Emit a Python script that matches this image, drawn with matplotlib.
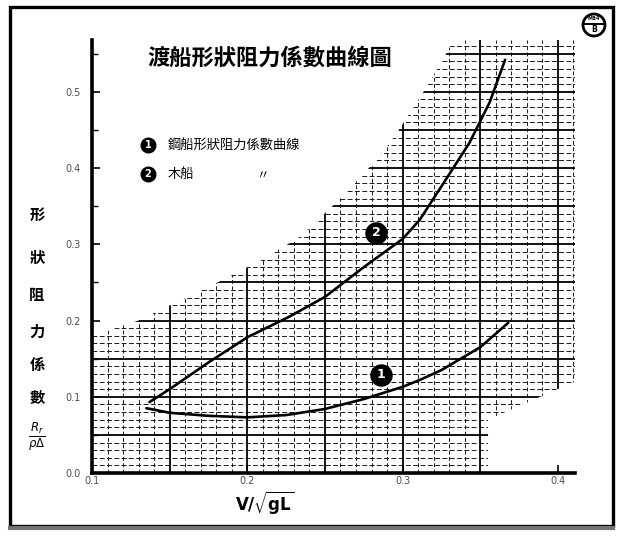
import matplotlib
matplotlib.use("Agg")
import matplotlib.pyplot as plt
from matplotlib.patches import Polygon, Rectangle, Circle
import numpy as np

plt.rcParams['font.family'] = ['Noto Sans CJK TC', 'DejaVu Sans']

# Froude number V/sqrt(gL) and form resistance coefficient
steel_x = [0.135, 0.15, 0.175, 0.2, 0.225, 0.25, 0.275, 0.3, 0.311, 0.325, 0.35, 0.368]
steel_y = [0.085, 0.079, 0.075, 0.073, 0.076, 0.084, 0.097, 0.113, 0.122, 0.135, 0.165, 0.197]
wood_x = [0.137, 0.15, 0.175, 0.2, 0.227, 0.25, 0.275, 0.3, 0.311, 0.325, 0.343, 0.356, 0.366]
wood_y = [0.093, 0.110, 0.145, 0.178, 0.205, 0.231, 0.270, 0.307, 0.332, 0.376, 0.433, 0.486, 0.542]

xticks = [0.1, 0.2, 0.3, 0.4]
yticks = [0.0, 0.1, 0.2, 0.3, 0.4, 0.5]
xtick_labels = ['0.1', '0.2', '0.3', '0.4']
ytick_labels = ['0.0', '0.1', '0.2', '0.3', '0.4', '0.5']

title = '渡船形狀阻力係數曲線圖'
legend_1 = '鋼船形狀阻力係數曲線'
legend_2 = '木船'
ylabel_chars = ['形', '狀', '阻', '力', '係', '數']

# area of the sheet that still carries graph-paper ruling
paper_edge = [(0.1, 0.0), (0.1, 0.18), (0.13, 0.20), (0.176, 0.245), (0.21, 0.28),
              (0.234, 0.31), (0.26, 0.36), (0.285, 0.415), (0.296, 0.445),
              (0.315, 0.505), (0.326, 0.543), (0.333, 0.568), (0.411, 0.568),
              (0.411, 0.12), (0.355, 0.07), (0.355, 0.0)]

W, H = 621, 536
fig = plt.figure(figsize=(W / 100, H / 100), dpi=100)
fig.patch.set_facecolor('white')

ax = fig.add_axes([92 / W, 63 / H, 483 / W, 433 / H])
ax.set_xlim(0.1, 0.411)
ax.set_ylim(0.0, 0.568)
ax.set_facecolor('none')

clip = Polygon(paper_edge, closed=True, transform=ax.transData, facecolor='none', edgecolor='none')
ax.add_patch(clip)

# graph paper: fine ruling every 0.01, heavy every 0.05
gx = np.round(np.arange(0.1, 0.411, 0.01), 3)
gy = np.round(np.arange(0.01, 0.568, 0.01), 3)
for v in gx:
    heavy = abs(v * 20 - round(v * 20)) < 1e-6
    ln = ax.axvline(v, color='black' if heavy else '0.1',
                    lw=1.3 if heavy else 0.7,
                    ls='-' if heavy else (0, (4, 2.5)), zorder=1)
    ln.set_clip_path(clip)
for v in gy:
    heavy = abs(v * 20 - round(v * 20)) < 1e-6
    ln = ax.axhline(v, color='black' if heavy else '0.1',
                    lw=1.3 if heavy else 0.7,
                    ls='-' if heavy else (0, (5, 2.5)), zorder=1)
    ln.set_clip_path(clip)

ax.plot(steel_x, steel_y, color='black', lw=1.9, zorder=3, solid_capstyle='round')
ax.plot(wood_x, wood_y, color='black', lw=1.9, zorder=3, solid_capstyle='round')

# circled curve numbers
for (cx, cy, num) in [(0.286, 0.129, '1'), (0.283, 0.315, '2')]:
    ax.scatter([cx], [cy], s=230, c='black', zorder=4)
    ax.text(cx, cy, num, color='white', fontsize=9, fontweight='bold',
            ha='center', va='center', zorder=5, family='DejaVu Sans')

for s in ['top', 'right']:
    ax.spines[s].set_visible(False)
ax.spines['left'].set_linewidth(2.6)
ax.spines['bottom'].set_linewidth(2.6)
ax.set_xticks(xticks)
ax.set_xticklabels(xtick_labels)
ax.set_yticks(yticks)
ax.set_yticklabels(ytick_labels)
ax.set_yticks(np.arange(0.05, 0.56, 0.1), minor=True)
ax.tick_params(axis='both', direction='in', length=6, width=1.2, labelsize=7,
               labelcolor='0.3')
ax.tick_params(axis='x', pad=2)
ax.tick_params(axis='y', pad=8)
ax.tick_params(axis='both', which='minor', direction='in', length=4, width=1.0)
for lab in ax.get_xticklabels() + ax.get_yticklabels():
    lab.set_family('DejaVu Sans')

# overlay in pixel units for the sheet frame and lettering
ov = fig.add_axes([0, 0, 1, 1], zorder=10)
ov.set_xlim(0, W)
ov.set_ylim(H, 0)
ov.axis('off')
ov.patch.set_alpha(0)

ov.add_patch(Rectangle((10, 7), 603, 519, fill=False, lw=2.4, edgecolor='black'))
ov.plot([10, 613], [528, 528], color='0.45', lw=3.0)

# sheet badge
ov.add_patch(Circle((594, 25), 11, fill=False, lw=2.0, edgecolor='black'))
ov.plot([584, 604], [24, 24], color='black', lw=1.4)
ov.text(594, 19, 'MB4', fontsize=3.6, fontweight='bold', ha='center', va='center', family='DejaVu Sans')
ov.text(594, 30, 'B', fontsize=5.5, fontweight='bold', ha='center', va='center', family='DejaVu Sans')

ov.text(270, 58, title, fontsize=16, fontweight='bold', ha='center', va='center')

# legend
ov.scatter([148, 148], [145, 174], s=110, c='black')
ov.text(148, 145, '1', color='white', fontsize=7, fontweight='bold', ha='center', va='center', family='DejaVu Sans')
ov.text(148, 174, '2', color='white', fontsize=7, fontweight='bold', ha='center', va='center', family='DejaVu Sans')
ov.text(168, 145, legend_1, fontsize=9.5, ha='left', va='center')
ov.text(168, 174, legend_2, fontsize=9.5, ha='left', va='center')
ov.text(262, 176, '〃', fontsize=9, ha='center', va='center')

# vertical axis title
for ch, yy in zip(ylabel_chars, [215, 258, 295, 332, 365, 398]):
    ov.text(37, yy, ch, fontsize=11, fontweight='bold', ha='center', va='center')
ov.text(37, 437, r'$\frac{R_r}{\rho\Delta}$', fontsize=12, ha='center', va='center')

ov.text(265, 503, r'$\mathbf{V/\sqrt{gL}}$', fontsize=12, ha='center', va='center',
        family='DejaVu Serif')

fig.savefig('out.png', dpi=100, facecolor='white')
